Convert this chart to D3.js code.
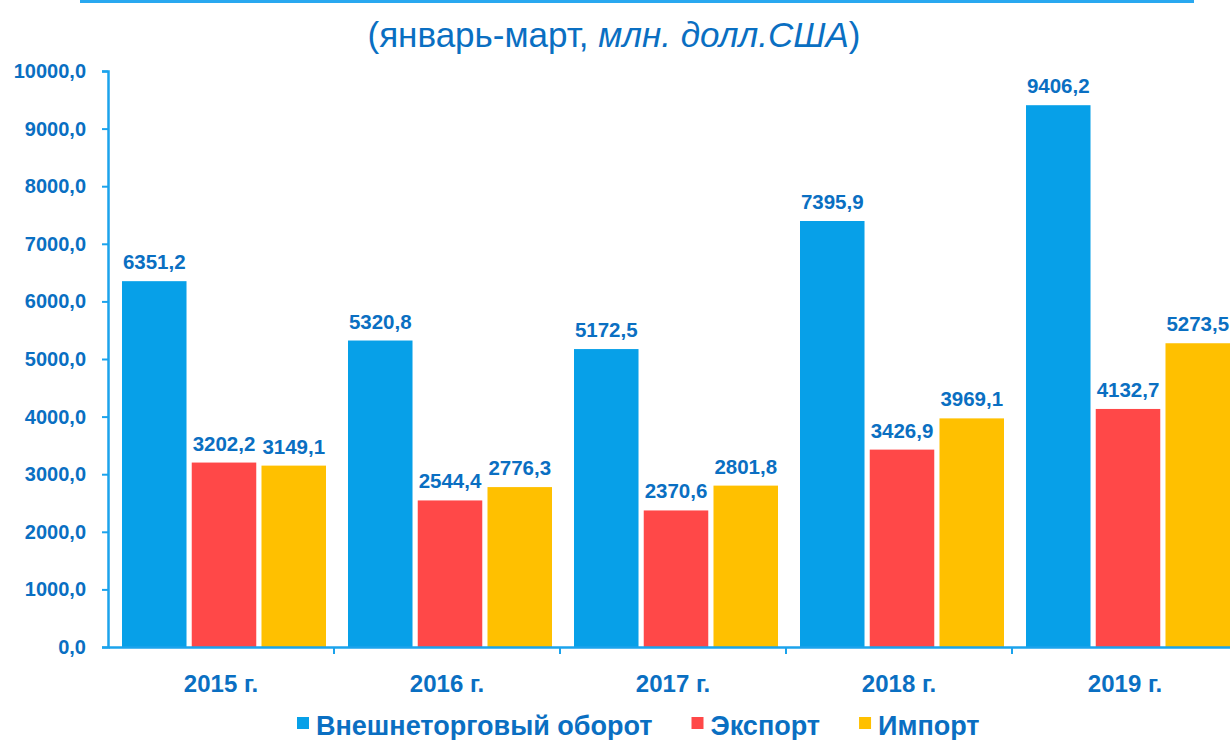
<!DOCTYPE html>
<html>
  <head>
    <meta charset="utf-8">
    <script src="https://d3js.org/d3.v7.min.js"></script>
    <style>
      body { margin: 0; background: white; font-family: 'Liberation Sans', Arial, sans-serif; }
      svg { display: block; }
    </style>
  </head>
  <body>
    <div id="chart"></div>
    <script>

// data
const years = ["2015 г.", "2016 г.", "2017 г.", "2018 г.", "2019 г."]
const seriesNames = ["Внешнеторговый оборот", "Экспорт", "Импорт"]
const turnover = [6351.2, 5320.8, 5172.5, 7395.9, 9406.2]
const exportVals = [3202.2, 2544.4, 2370.6, 3426.9, 4132.7]
const importVals = [3149.1, 2776.3, 2801.8, 3969.1, 5273.5]
const yTicks = [0, 1000, 2000, 3000, 4000, 5000, 6000, 7000, 8000, 9000, 10000]

const colors = ["#07A0E8", "#FF4848", "#FFC000"]
const textBlue = "#0A6FC2"
const axisBlue = "#1BA3EC"

const W = 1230, H = 740
const ruLocale = d3.formatLocale({decimal: ",", thousands: "", grouping: [3], currency: ["", ""]})
const fmt = ruLocale.format(".1f")

const rows = years.map((y, i) => ({
  year: y,
  vals: [turnover[i], exportVals[i], importVals[i]]
}))

const svg = d3.select("#chart").append("svg")
  .attr("width", W)
  .attr("height", H)

// top rule
svg.append("rect")
  .attr("x", 80).attr("y", 0)
  .attr("width", 1114).attr("height", 3)
  .attr("fill", "#29A8F0")

// title, part italic
const title = svg.append("text")
  .attr("x", 614).attr("y", 47)
  .attr("text-anchor", "middle")
  .attr("fill", textBlue)
  .style("font-size", "35px")
title.append("tspan").text("(январь-март, ")
title.append("tspan").style("font-style", "italic").text("млн. долл.США")
title.append("tspan").text(")")

const x0 = d3.scaleBand()
  .domain(years)
  .range([108, 1238])

const x1 = d3.scaleBand()
  .domain(d3.range(3))
  .range([14, 218])
  .paddingInner(0.075)

const y = d3.scaleLinear()
  .domain([0, 10000])
  .range([647, 71])

// bars
const groups = svg.selectAll(".grp")
  .data(rows)
  .enter().append("g")
  .attr("transform", d => `translate(${x0(d.year)},0)`)

groups.selectAll("rect")
  .data(d => d.vals.map((v, k) => ({v, k})))
  .enter().append("rect")
  .attr("x", d => x1(d.k))
  .attr("y", d => y(d.v))
  .attr("width", x1.bandwidth())
  .attr("height", d => y(0) - y(d.v))
  .attr("fill", d => colors[d.k])

groups.selectAll(".lbl")
  .data(d => d.vals.map((v, k) => ({v, k})))
  .enter().append("text")
  .attr("x", d => x1(d.k) + x1.bandwidth() / 2)
  .attr("y", d => y(d.v) - 12)
  .attr("text-anchor", "middle")
  .attr("fill", textBlue)
  .style("font-size", "20.5px")
  .style("font-weight", "bold")
  .text(d => fmt(d.v))

// y axis
const yAxis = svg.append("g")
  .attr("transform", "translate(108,0)")
  .call(d3.axisLeft(y).tickValues(yTicks).tickSize(6).tickPadding(16).tickFormat(fmt))
yAxis.select(".domain").attr("stroke", axisBlue).attr("stroke-width", 2.5)
yAxis.selectAll(".tick line").attr("stroke", axisBlue).attr("stroke-width", 2)
yAxis.selectAll("text")
  .attr("fill", textBlue)
  .style("font-size", "20px")
  .style("font-weight", "bold")
  .style("font-family", "'Liberation Sans', Arial, sans-serif")

// x axis
const xAxis = svg.append("g")
  .attr("transform", "translate(0,647)")
  .call(d3.axisBottom(x0).tickSize(0).tickPadding(28))
xAxis.select(".domain").attr("stroke", axisBlue).attr("stroke-width", 2.5)
xAxis.selectAll("text")
  .attr("fill", textBlue)
  .style("font-size", "24px")
  .style("font-weight", "bold")
  .style("font-family", "'Liberation Sans', Arial, sans-serif")

// boundary ticks between categories
xAxis.selectAll(".bnd")
  .data(years.slice(1))
  .enter().append("line")
  .attr("x1", d => x0(d)).attr("x2", d => x0(d))
  .attr("y1", 0).attr("y2", 7)
  .attr("stroke", axisBlue).attr("stroke-width", 2)

// legend
const legend = svg.append("g").attr("transform", "translate(297,735)")
let lx = 0
seriesNames.forEach((name, k) => {
  const item = legend.append("g").attr("transform", `translate(${lx},0)`)
  item.append("rect")
    .attr("x", 0).attr("y", -18)
    .attr("width", 12).attr("height", 12)
    .attr("fill", colors[k])
  const t = item.append("text")
    .attr("x", 19).attr("y", 0)
    .attr("fill", textBlue)
    .style("font-size", "27px")
    .style("font-weight", "bold")
    .text(name)
  lx += 19 + t.node().getComputedTextLength() + 39
})

    </script>
  </body>
</html>
